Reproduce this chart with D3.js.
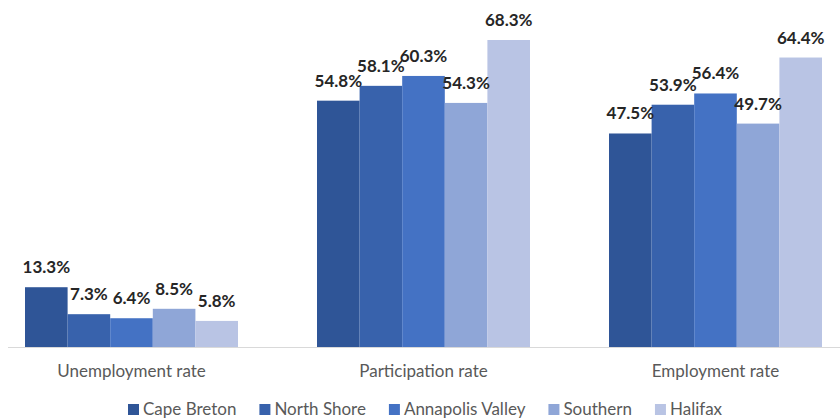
<!DOCTYPE html>
<html>
<head>
    <meta charset="utf-8">
    <style>
        body { margin: 0; background: #fff; }
        svg { display: block; font-family: Lato, 'Open Sans', sans-serif; }
        .val { font-size: 17px; font-weight: bold; fill: #262626; }
        .cat { font-size: 17px; fill: #595959; }
        .leg { font-size: 17px; fill: #595959; }
    </style>
</head>
<body>
<svg width="840" height="419"></svg>
<script src="https://d3js.org/d3.v7.min.js"></script>
<script>
    // data
    let categories = ["Unemployment rate", "Participation rate", "Employment rate"];
    let regions = ["Cape Breton", "North Shore", "Annapolis Valley", "Southern", "Halifax"];
    let capeBreton = [13.3, 54.8, 47.5];
    let northShore = [7.3, 58.1, 53.9];
    let annapolis = [6.4, 60.3, 56.4];
    let southern = [8.5, 54.3, 49.7];
    let halifax = [5.8, 68.3, 64.4];
    let colors = ["#2f5597", "#3862ac", "#4472c4", "#8fa6d7", "#b9c4e4"];

    let series = [capeBreton, northShore, annapolis, southern, halifax];

    let svg = d3.select("svg");
    let baseline = 347;

    let x0 = d3.scalePoint()
        .domain(categories)
        .range([131.5, 715.5]);

    let x1 = d3.scaleBand()
        .domain(regions)
        .range([-106.5, 106.5]);

    let y = d3.scaleLinear()
        .domain([0, 70])
        .range([baseline, baseline - 70 * 4.495]);

    // axis line
    svg.append("line")
        .attr("x1", 8)
        .attr("x2", 840)
        .attr("y1", baseline + 0.5)
        .attr("y2", baseline + 0.5)
        .style("stroke", "#d9d9d9")
        .style("stroke-width", 1.2)

    let rows = [];
    regions.forEach(function (r, i) {
        categories.forEach(function (c, j) {
            rows.push({ region: r, cat: c, value: series[i][j], color: colors[i] });
        })
    })

    svg.append("g")
        .selectAll("rect")
        .data(rows)
        .join("rect")
        .attr("x", d => x0(d.cat) + x1(d.region))
        .attr("width", x1.bandwidth())
        .attr("y", d => y(d.value))
        .attr("height", d => baseline - y(d.value))
        .style("fill", d => d.color)

    svg.append("g")
        .selectAll("text")
        .data(rows)
        .join("text")
        .attr("class", "val")
        .attr("text-anchor", "middle")
        .attr("x", d => x0(d.cat) + x1(d.region) + x1.bandwidth() / 2)
        .attr("y", d => y(d.value) - 14)
        .text(d => d.value.toFixed(1) + "%")

    svg.append("g")
        .selectAll("text")
        .data(categories)
        .join("text")
        .attr("class", "cat")
        .attr("text-anchor", "middle")
        .attr("x", d => x0(d))
        .attr("y", 377)
        .text(d => d)

    // legend
    let legend = svg.append("g");
    let lx = 128;
    regions.forEach(function (r, i) {
        legend.append("rect")
            .attr("x", lx)
            .attr("y", 404)
            .attr("width", 11)
            .attr("height", 11)
            .style("fill", colors[i])
        let t = legend.append("text")
            .attr("class", "leg")
            .attr("x", lx + 15)
            .attr("y", 415)
            .text(r)
        lx += 15 + t.node().getComputedTextLength() + 23;
    })
</script>
</body>
</html>
